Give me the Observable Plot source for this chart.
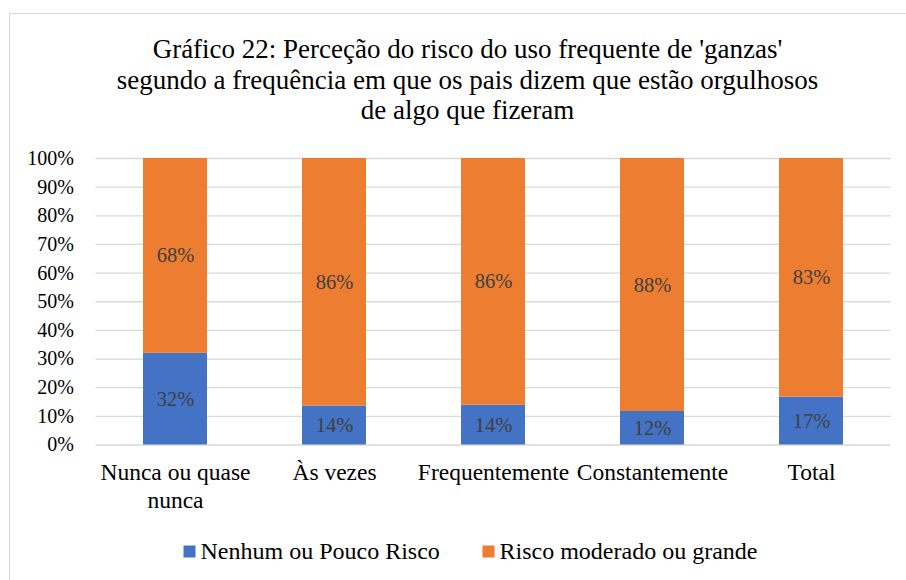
<!DOCTYPE html>
<html lang="pt">
<head>
<meta charset="utf-8">
<script src="https://cdn.jsdelivr.net/npm/d3@7"></script>
<script src="https://cdn.jsdelivr.net/npm/@observablehq/plot@0.6"></script>
<style>
  html, body { margin: 0; padding: 0; background: #fff; }
  #wrap { position: relative; width: 906px; height: 580px; overflow: hidden; }
  #border { position: absolute; left: 9px; top: 13px; width: 1000px; height: 1000px; border-left: 1.5px solid #d9d9d9; border-top: 1.5px solid #d9d9d9; box-sizing: border-box; }
  #title { position: absolute; left: 0; top: 0; }
  #chart { position: absolute; left: 0; top: 140px; }
  #legend { position: absolute; left: 0; top: 526px; }
</style>
</head>
<body>
<div id="wrap">
  <div id="border"></div>
  <div id="title"></div>
  <div id="chart"></div>
  <div id="legend"></div>
</div>
<script>
const titleLines = [
  "Gráfico 22: Perceção do risco do uso frequente de 'ganzas'",
  "segundo a frequência em que os pais dizem que estão orgulhosos",
  "de algo que fizeram"
];
const categories = ["Nunca ou quase nunca", "Às vezes", "Frequentemente", "Constantemente", "Total"];
const categoryLabels = ["Nunca ou quase\nnunca", "Às vezes", "Frequentemente", "Constantemente", "Total"];
const seriesNames = ["Nenhum ou Pouco Risco", "Risco moderado ou grande"];
const seriesColors = ["#4472C4", "#ED7D31"];
const lowRisk = [32, 13.6, 13.9, 11.7, 16.7];
const highRisk = [68, 86.4, 86.1, 88.3, 83.3];
const lowLabels = ["32%", "14%", "14%", "12%", "17%"];
const highLabels = ["68%", "86%", "86%", "88%", "83%"];
const yTicks = [0, 10, 20, 30, 40, 50, 60, 70, 80, 90, 100];

const serif = "'Liberation Serif', 'Times New Roman', serif";

// Title: a small Plot SVG above the chart
const titlePlot = Plot.plot({
  width: 906,
  height: 140,
  marginTop: 35,
  marginLeft: 28,
  marginRight: 0,
  marginBottom: 0,
  style: {fontFamily: serif, background: "transparent"},
  marks: [
    Plot.text([titleLines.join("\n")], {
      frameAnchor: "top", text: d => d, fontSize: 27, lineHeight: 1.148, fill: "#000"
    })
  ]
});
document.getElementById("title").appendChild(titlePlot);

const data = [];
categories.forEach((c, i) => data.push({cat: c, series: seriesNames[0], value: lowRisk[i], label: lowLabels[i]}));
categories.forEach((c, i) => data.push({cat: c, series: seriesNames[1], value: highRisk[i], label: highLabels[i]}));

const labelMap = new Map(categories.map((c, i) => [c, categoryLabels[i]]));

const chart = Plot.plot({
  width: 906,
  height: 386,
  marginTop: 18,
  marginBottom: 81.5,
  marginLeft: 95.5,
  marginRight: 15.5,
  style: {fontFamily: serif, background: "transparent"},
  x: {domain: categories, paddingInner: 0.6, paddingOuter: 0.3, label: null},
  y: {domain: [0, 100], label: null},
  color: {domain: seriesNames, range: seriesColors},
  marks: [
    Plot.ruleY(yTicks, {stroke: "#d9d9d9", strokeWidth: 1.3}),
    Plot.barY(data, Plot.stackY({x: "cat", y: "value", fill: "series"})),
    Plot.text(data, Plot.stackY({x: "cat", y: "value", text: "label", fill: "#404040", fontSize: 20.5})),
    Plot.axisY(yTicks, {tickSize: 0, tickPadding: 22, fontSize: 20, fill: "#000", tickFormat: d => d + "%"}),
    Plot.axisX({tickSize: 0, tickPadding: 15, fontSize: 23.5, fill: "#000", lineHeight: 1.2, tickFormat: d => labelMap.get(d)})
  ]
});
document.getElementById("chart").appendChild(chart);

// Legend: a small Plot SVG below the chart
const legendPlot = Plot.plot({
  width: 906,
  height: 50,
  margin: 0,
  style: {fontFamily: serif, background: "transparent"},
  x: {type: "point", domain: seriesNames, range: [188.3, 487.7], padding: 0, axis: null},
  marks: [
    Plot.dot(seriesNames, {x: d => d, symbol: "square", r: 6.77, fill: (d, i) => seriesColors[i], stroke: null}),
    Plot.text(seriesNames, {x: d => d, text: d => d, textAnchor: "start", dx: 11, fontSize: 24, fill: "#000"})
  ]
});
document.getElementById("legend").appendChild(legendPlot);
</script>
</body>
</html>
